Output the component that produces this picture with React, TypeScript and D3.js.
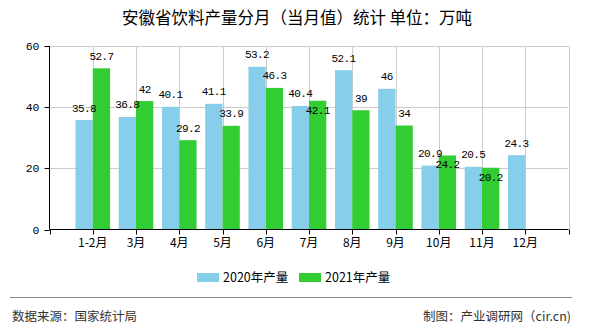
import React from "react";
import * as d3 from "d3";

const categories = ["1-2月", "3月", "4月", "5月", "6月", "7月", "8月", "9月", "10月", "11月", "12月"];
const values2020 = [35.8, 36.8, 40.1, 41.1, 53.2, 40.4, 52.1, 46, 20.9, 20.5, 24.3];
const values2021: (number | null)[] = [52.7, 42, 29.2, 33.9, 46.3, 42.1, 39, 34, 24.2, 20.2, null];
const yTicks = [0, 20, 40, 60];
const seriesNames = ["2020年产量", "2021年产量"];
const colors = ["#87CEEB", "#32CD32"];

const W = 590, H = 330;
const left = 49.5, right = 568.5, top = 46, bottom = 229.5;
const CJK = "'Noto Sans CJK SC', 'Liberation Sans', sans-serif";
const MONO = "'Liberation Mono', 'DejaVu Sans Mono', monospace";

export default function App() {
  const x = d3.scaleLinear().domain([0, categories.length + 1]).range([left, right]);
  const y = d3.scaleLinear().domain([0, 60]).range([bottom, top]);
  const step = x(1) - x(0);
  const bw = step * 0.4;
  const positions = d3.range(0, categories.length + 2);

  const labelW = (s: string) => s.length * 6;

  const labels: { x: number; y: number; t: string }[] = [];
  categories.forEach((c, i) => {
    const cx = x(i + 1);
    const v1 = values2020[i];
    const bx = cx - bw / 2;
    const by = y(v1) - 8.5;
    labels.push({ x: bx, y: by, t: String(v1) });
    const v2 = values2021[i];
    if (v2 != null) {
      const gx = cx + bw / 2;
      let gy = y(v2) - 8.5;
      const t = String(v2);
      const hOverlap = Math.abs(gx - bx) < (labelW(t) + labelW(String(v1))) / 2;
      const vOverlap = Math.abs(gy - by) < 11;
      if (hOverlap && vOverlap) gy = y(v2) + 13;
      labels.push({ x: gx, y: gy, t });
    }
  });

  return (
    <svg width={W} height={H} style={{ position: "absolute", left: 0, top: 0, background: "#fff" }}>
      <text x={297} y={24} textAnchor="middle" fontFamily={CJK} fontSize={16.5} fill="#000">
        安徽省饮料产量分月（当月值）统计 单位：万吨
      </text>
      {yTicks.filter((t) => t > 0).map((t) => (
        <line key={"hy" + t} x1={left} x2={right} y1={Math.round(y(t)) + 0.5} y2={Math.round(y(t)) + 0.5} stroke="#ccc" />
      ))}
      {positions.slice(1).map((p) => (
        <line key={"gx" + p} x1={Math.round(x(p)) + 0.5} x2={Math.round(x(p)) + 0.5} y1={top} y2={bottom} stroke="#ccc" />
      ))}
      {categories.map((c, i) => {
        const cx = x(i + 1);
        const v2 = values2021[i];
        return (
          <g key={c}>
            <rect x={cx - bw} y={y(values2020[i])} width={bw} height={bottom - y(values2020[i])} fill={colors[0]} />
            {v2 != null && <rect x={cx} y={y(v2)} width={bw} height={bottom - y(v2)} fill={colors[1]} />}
          </g>
        );
      })}
      <line x1={left} x2={left} y1={top} y2={bottom} stroke="#000" />
      <line x1={left} x2={right} y1={bottom} y2={bottom} stroke="#000" />
      {yTicks.map((t) => (
        <g key={"yt" + t}>
          <line x1={left - 5} x2={left} y1={Math.round(y(t)) + 0.5} y2={Math.round(y(t)) + 0.5} stroke="#000" />
          <text x={left - 10} y={y(t) + 4} textAnchor="end" fontFamily={MONO} fontSize={11.5} fill="#000">
            {t}
          </text>
        </g>
      ))}
      {positions.map((p) => (
        <line key={"xt" + p} x1={Math.round(x(p)) + 0.5} x2={Math.round(x(p)) + 0.5} y1={bottom} y2={bottom + 5} stroke="#000" />
      ))}
      {categories.map((c, i) => (
        <text key={"xl" + c} x={x(i + 1)} y={247} textAnchor="middle" fontFamily={CJK} fontSize={12} fill="#000">
          {c}
        </text>
      ))}
      {labels.map((l, i) => (
        <text key={"vl" + i} x={l.x} y={l.y} textAnchor="middle" fontFamily={MONO} fontSize={11} letterSpacing={-0.6} fill="#000">
          {l.t}
        </text>
      ))}
      {seriesNames.map((s, i) => {
        const lx = 197 + i * 102;
        return (
          <g key={s}>
            <rect x={lx} y={273} width={22} height={9} fill={colors[i]} />
            <text x={lx + 26} y={282} fontFamily={CJK} fontSize={12.5} fill="#000">
              {s}
            </text>
          </g>
        );
      })}
      <line x1={10} x2={572} y1={297.5} y2={297.5} stroke="#888" />
      <text x={12} y={321} fontFamily={CJK} fontSize={12.5} fill="#333">
        数据来源：国家统计局
      </text>
      <text x={571} y={321} textAnchor="end" fontFamily={CJK} fontSize={12.5} fill="#333">
        制图：产业调研网（cir.cn)
      </text>
    </svg>
  );
}
